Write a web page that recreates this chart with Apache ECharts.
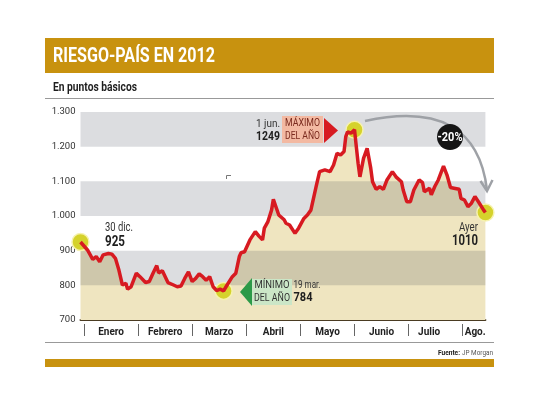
<!DOCTYPE html>
<html><head><meta charset="utf-8">
<script src="https://cdn.jsdelivr.net/npm/echarts@6/dist/echarts.min.js"></script>
<style>html,body{margin:0;padding:0;background:#fff}#c{width:540px;height:405px}</style>
</head><body><div id="c"></div>
<script>
const dates = [
"2011-12-30","2012-01-03","2012-01-06","2012-01-08","2012-01-10","2012-01-12","2012-01-15","2012-01-17","2012-01-19","2012-01-21","2012-01-23","2012-01-25","2012-01-26","2012-01-28","2012-01-31",
"2012-02-02","2012-02-03","2012-02-05","2012-02-07","2012-02-09","2012-02-11","2012-02-12","2012-02-14","2012-02-15","2012-02-17","2012-02-20","2012-02-22","2012-02-24","2012-02-26","2012-02-28",
"2012-03-01","2012-03-03","2012-03-05","2012-03-07","2012-03-09","2012-03-11","2012-03-13","2012-03-15","2012-03-17","2012-03-19","2012-03-21","2012-03-24","2012-03-26","2012-03-28","2012-03-29","2012-03-31",
"2012-04-01","2012-04-03","2012-04-04","2012-04-06","2012-04-08","2012-04-10","2012-04-11","2012-04-13","2012-04-15","2012-04-16","2012-04-18","2012-04-19","2012-04-20","2012-04-22","2012-04-23","2012-04-25","2012-04-28","2012-04-30",
"2012-05-03","2012-05-05","2012-05-07","2012-05-08","2012-05-10","2012-05-12","2012-05-15","2012-05-18","2012-05-20","2012-05-22","2012-05-24","2012-05-26","2012-05-27","2012-05-28","2012-05-30",
"2012-06-01","2012-06-02","2012-06-03","2012-06-04","2012-06-06","2012-06-07","2012-06-08","2012-06-10","2012-06-11","2012-06-13","2012-06-15","2012-06-17","2012-06-19","2012-06-20","2012-06-22","2012-06-24","2012-06-25","2012-06-27","2012-06-28","2012-06-30",
"2012-07-02","2012-07-04","2012-07-07","2012-07-09","2012-07-10","2012-07-13","2012-07-14","2012-07-16","2012-07-18","2012-07-21","2012-07-23","2012-07-25","2012-07-27","2012-07-28","2012-07-30","2012-07-31",
"2012-08-02","2012-08-04","2012-08-06","2012-08-08","2012-08-10","2012-08-13","2012-08-14"
];
const values = [
925,902,875,883,868,888,892,890,878,844,801,806,789,796,835,
825,828,808,811,835,857,836,842,839,808,801,796,798,820,839,
811,820,833,825,815,825,796,785,789,784,801,825,835,883,894,897,
902,931,936,955,942,931,965,984,1017,1048,1018,1003,1008,989,979,974,950,965,
993,1003,1017,1017,1085,1128,1133,1128,1147,1181,1176,1186,1229,1243,1239,
1249,1200,1152,1113,1166,1171,1195,1138,1099,1077,1085,1077,1104,1099,1128,1113,1118,1099,1075,1041,
1041,1075,1104,1096,1070,1080,1061,1085,1104,1144,1118,1082,1080,1085,1077,1051,
1046,1027,1037,1056,1041,1017,1010
];
const monthNames = ["Enero","Febrero","Marzo","Abril","Mayo","Junio","Julio","Ago."];
const monthStarts = [0,1,2,3,4,5,6,7];
const monthLabelPos = [0.5,1.5,2.5,3.5,4.5,5.5,6.38,7.23];
const yTicks = [700,800,900,1000,1100,1200,1300];
const bands = [[800,900],[1000,1100],[1200,1300]];

function toM(s){
  const [y,mo,d] = s.split("-").map(Number);
  const dim = new Date(y, mo, 0).getDate();
  const base = (y === 2011) ? mo - 13 : mo - 1;
  return base + (d - 1) / dim;
}
const pts = dates.map((d,i)=>[toM(d), values[i]]);
const xMin = pts[0][0], xMax = pts[pts.length-1][0];
let iMin = 0, iMax = 0;
values.forEach((v,i)=>{ if(v<values[iMin]) iMin=i; if(v>values[iMax]) iMax=i; });
const highlight = [0, iMin, iMax, values.length-1].map(i=>pts[i]);

const NF = "Roboto, 'Liberation Sans', sans-serif";
const fmtY = v => v>=1000 ? Math.floor(v/1000)+"."+String(v%1000).padStart(3,"0") : String(v);

const mctx = document.createElement('canvas').getContext('2d');
function T(x, y, text, size, bold, target, align, color){
  const font = (bold ? 'bold ' : '') + size + 'px ' + NF;
  mctx.font = font;
  const w = mctx.measureText(text).width;
  const sx = target ? Math.min(1.3, target / w) : 1;
  return {type:'text', x:x, y:y, scaleX:sx, z:30,
    style:{text:text, font:font, fill:color || '#333', textAlign:align || 'left', textVerticalAlign:'middle'}};
}

const graphics = [
  {type:'rect', shape:{x:45, y:38, width:449, height:35}, style:{fill:'#c8920f'}},
  T(53, 57, 'RIESGO-PAÍS EN 2012', 21, true, 162, 'left', '#fff'),
  T(53, 88, 'En puntos básicos', 12, true, 84, 'left', '#1e1e1e'),
  {type:'line', shape:{x1:45, y1:98.5, x2:494, y2:98.5}, style:{stroke:'#999', lineWidth:1}},
  {type:'line', shape:{x1:45, y1:342.5, x2:494, y2:342.5}, style:{stroke:'#999', lineWidth:1}},
  T(460, 353, 'Fuente:', 7, true, 22, 'right', '#222'),
  T(462, 353, 'JP Morgan', 7, false, 31, 'left', '#555'),
  {type:'rect', shape:{x:45, y:359, width:449, height:8}, style:{fill:'#c8920f'}},
  // small stray mark
  {type:'polyline', shape:{points:[[226.5,179],[226.5,175.5],[231,175.5]]}, style:{stroke:'#777', lineWidth:1, fill:null}},
  // start label
  T(105, 228, '30 dic.', 12, false, 28, 'left', '#333'),
  T(105, 242, '925', 14, true, 20, 'left', '#1e1e1e'),
  // max label
  T(280, 124, '1 jun.', 11, false, 24, 'right', '#333'),
  T(280, 137, '1249', 13, true, 24, 'right', '#1e1e1e'),
  {type:'rect', shape:{x:282, y:116, width:41, height:27}, style:{fill:'#f3b9a2'}},
  T(302.5, 123.5, 'MÁXIMO', 11, false, 35, 'center', '#7a2a1e'),
  T(302.5, 136, 'DEL AÑO', 11, false, 35, 'center', '#7a2a1e'),
  {type:'polygon', shape:{points:[[324,118],[324,143],[338,130.5]]}, style:{fill:'#d71a21'}},
  // min label
  {type:'polygon', shape:{points:[[240,292],[252,278],[252,306]]}, style:{fill:'#2c9a48'}},
  {type:'rect', shape:{x:252, y:279, width:40, height:26}, style:{fill:'#cbe6c7'}},
  T(272, 285.5, 'MÍNIMO', 11, false, 35, 'center', '#333'),
  T(272, 298, 'DEL AÑO', 11, false, 36, 'center', '#333'),
  T(293.5, 285, '19 mar.', 11, false, 27, 'left', '#333'),
  T(293.5, 298, '784', 13, true, 19, 'left', '#1e1e1e'),
  // end label
  T(478, 228, 'Ayer', 12, false, 19, 'right', '#333'),
  T(478, 241, '1010', 14, true, 26, 'right', '#1e1e1e'),
  // arrow
  {type:'bezierCurve', shape:{x1:365, y1:121, cpx1:476, cpy1:97, x2:487, y2:190}, style:{stroke:'#9ea1a6', lineWidth:2.5, fill:null}},
  {type:'polyline', shape:{points:[[480.5,181],[487,191],[492.5,180]]}, style:{stroke:'#9ea1a6', lineWidth:2.5, fill:null}},
  {type:'circle', shape:{cx:450, cy:137, r:13}, style:{fill:'#151515'}},
  T(450, 137.5, '-20%', 12, true, 25, 'center', '#fff')
].map(g => Object.assign({z:20}, g));

const chart = echarts.init(document.getElementById('c'), null, {renderer:'canvas'});
chart.setOption({
  animation:false,
  backgroundColor:'#fff',
  grid:{left:80.5, right:54.6, top:112, bottom:85},
  xAxis:[
    {type:'value', min:xMin, max:xMax, axisLine:{show:true, onZero:false, lineStyle:{color:'#4a3b22', width:2}},
     axisTick:{show:false}, axisLabel:{show:false}, splitLine:{show:false}},
    {type:'value', min:xMin, max:xMax, position:'bottom', offset:4,
     axisLine:{show:false},
     axisTick:{show:true, customValues:monthStarts, length:12, lineStyle:{color:'#666', width:1}},
     axisLabel:{show:true, customValues:monthLabelPos, margin:3, fontFamily:NF, fontWeight:'bold', fontSize:10, color:'#222',
       formatter:(v)=>{ const k = monthLabelPos.findIndex(p=>Math.abs(p-v)<1e-6); return k>=0?monthNames[k]:''; }},
     splitLine:{show:false}}
  ],
  yAxis:{type:'value', min:700, max:1300, interval:100,
    axisLine:{show:false}, axisTick:{show:false}, splitLine:{show:false},
    axisLabel:{formatter:fmtY, fontFamily:NF, fontSize:9.5, color:'#333', margin:5}},
  series:[
    {type:'line', data:pts, showSymbol:false, lineStyle:{width:0}, areaStyle:{color:'#efe5c0', opacity:1, origin:'start'}, z:1, silent:true},
    {type:'custom', data:bands, encode:{y:[0,1]}, z:3, silent:true,
      renderItem:(params, api)=>{
        const p1 = api.coord([xMin, api.value(1)]);
        const p2 = api.coord([xMax, api.value(0)]);
        return {type:'rect', shape:{x:p1[0], y:p1[1], width:p2[0]-p1[0], height:p2[1]-p1[1]},
                style:{fill:'rgba(40,45,60,0.16)'}};
      }},
    {type:'scatter', data:highlight, symbolSize:17, z:4,
      itemStyle:{color:'#d5d22c', borderColor:'#f6f2b0', borderWidth:1.5, opacity:1}},
    {type:'line', data:pts, showSymbol:false, z:5, lineStyle:{color:'#d71a21', width:3.5}}
  ],
  graphic:{elements:graphics}
});
</script></body></html>
